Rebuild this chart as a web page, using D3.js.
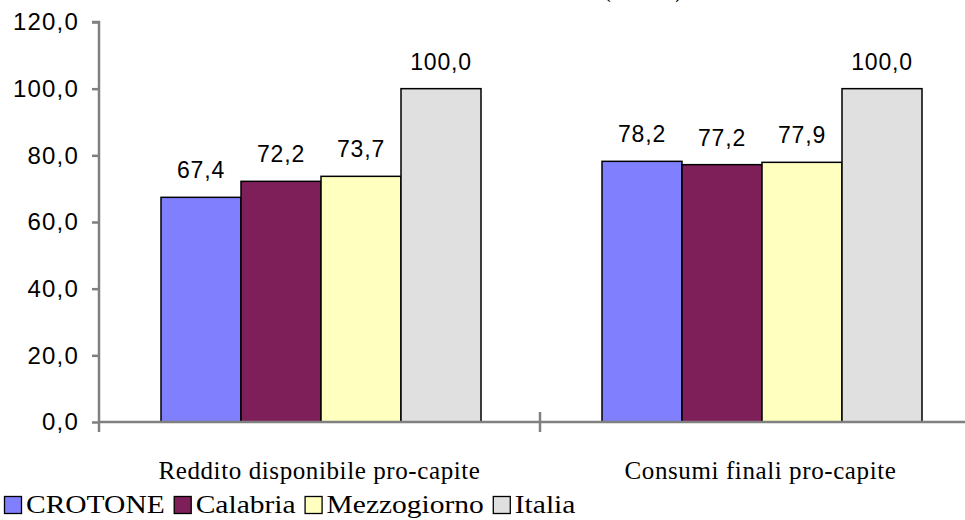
<!DOCTYPE html>
<html>
<head>
<meta charset="utf-8">
<script src="https://cdn.jsdelivr.net/npm/d3@7"></script>
<style>
  html, body { margin: 0; padding: 0; background: #fff; }
  svg { display: block; }
</style>
</head>
<body>
<svg id="chart" width="965" height="520"></svg>
<script>
// Indici pro-capite (Italia = 100)
const categories = ["Reddito disponibile pro-capite", "Consumi finali pro-capite"];
const seriesNames = ["CROTONE", "Calabria", "Mezzogiorno", "Italia"];
const seriesColors = ["#8080FF", "#7F1F5A", "#FFFFC0", "#E0E0E0"];
const values = {
  "CROTONE":     [67.4, 78.2],
  "Calabria":    [72.2, 77.2],
  "Mezzogiorno": [73.7, 77.9],
  "Italia":      [100.0, 100.0]
};
const yTicks = [0, 20, 40, 60, 80, 100, 120];

const fmt = v => v.toFixed(1).replace(".", ",");
const svg = d3.select("#chart");

const plotLeft = 99, plotW = 882, plotTop = 22, plotBottom = 422;
const sansFont = "Liberation Sans, Arial, sans-serif";
const serifFont = "Liberation Serif, Times New Roman, serif";

const y = d3.scaleLinear().domain([0, 120]).range([plotBottom, plotTop]);
const x0 = d3.scaleBand().domain(categories).range([plotLeft, plotLeft + plotW]).paddingInner(0).paddingOuter(0);
const x1 = d3.scaleBand().domain(seriesNames).range([62, 62 + 4 * 80]);

// heading above the plot (runs off the top edge)
svg.append("text")
  .attr("x", 643).attr("y", -1)
  .attr("text-anchor", "middle")
  .attr("font-family", serifFont)
  .attr("font-weight", "bold")
  .attr("font-size", 15)
  .text("(Italia=100)");

// bars
const groups = svg.append("g").selectAll("g")
  .data(categories)
  .join("g")
  .attr("transform", d => `translate(${x0(d)},0)`);

const cells = (c, i) => seriesNames.map((s, k) => ({ s, k, v: values[s][i] }));

groups.selectAll("rect")
  .data(cells)
  .join("rect")
  .attr("x", d => x1(d.s))
  .attr("y", d => y(d.v))
  .attr("width", x1.bandwidth())
  .attr("height", d => y(0) - y(d.v))
  .attr("fill", d => seriesColors[d.k])
  .attr("stroke", "#000")
  .attr("stroke-width", 1.5);

groups.selectAll("text.val")
  .data(cells)
  .join("text")
  .attr("class", "val")
  .attr("x", d => x1(d.s) + x1.bandwidth() / 2)
  .attr("y", d => y(d.v) - 19)
  .attr("text-anchor", "middle")
  .attr("font-family", sansFont)
  .attr("font-size", 23)
  .attr("letter-spacing", 0.8)
  .attr("fill", "#000")
  .text(d => fmt(d.v));

// y axis
const yAxis = svg.append("g")
  .attr("transform", `translate(${plotLeft},0)`)
  .call(d3.axisLeft(y).tickValues(yTicks).tickFormat(fmt).tickSize(7).tickPadding(13));
yAxis.select(".domain").attr("stroke", "#808080").attr("stroke-width", 2.5)
  .attr("d", `M-7,${plotTop}H0V${plotBottom + 10}`);
yAxis.selectAll(".tick line").attr("stroke", "#808080").attr("stroke-width", 2.5);
yAxis.selectAll(".tick text")
  .attr("font-family", sansFont)
  .attr("font-size", 24)
  .attr("letter-spacing", 1.2)
  .attr("fill", "#000");

// x axis
const xAxis = svg.append("g")
  .attr("transform", `translate(0,${plotBottom})`)
  .call(d3.axisBottom(x0).tickSize(0).tickPadding(39));
xAxis.select(".domain").attr("stroke", "#808080").attr("stroke-width", 2.5)
  .attr("d", `M${plotLeft},0H${plotLeft + plotW}`);
xAxis.selectAll(".tick text")
  .attr("font-family", serifFont)
  .attr("font-size", 25)
  .attr("letter-spacing", 0.6)
  .attr("fill", "#000");

// category separators
const seps = categories.map(c => x0(c)).concat([plotLeft + plotW]).slice(1);
svg.append("g").selectAll("line")
  .data(seps)
  .join("line")
  .attr("x1", d => d).attr("x2", d => d)
  .attr("y1", plotBottom - 10).attr("y2", plotBottom + 10)
  .attr("stroke", "#808080").attr("stroke-width", 2.5);

// legend: swatches and labels laid out left to right
const legendScaleX = 1.18, swatch = 17, labelGap = 5, itemGap = 9;
const legend = svg.append("g").attr("transform", "translate(4,496)");
let cursor = 0;
seriesNames.forEach((name, i) => {
  const item = legend.append("g").attr("transform", `translate(${cursor},0)`);
  item.append("rect")
    .attr("x", 0.5).attr("y", 0.5)
    .attr("width", swatch).attr("height", swatch)
    .attr("fill", seriesColors[i])
    .attr("stroke", "#000").attr("stroke-width", 1.3);
  const label = item.append("text")
    .attr("transform", `translate(${swatch + labelGap},17) scale(${legendScaleX},1)`)
    .attr("font-family", serifFont)
    .attr("font-size", 25)
    .attr("fill", "#000")
    .text(name);
  cursor += swatch + labelGap + label.node().getComputedTextLength() * legendScaleX + itemGap;
});
</script>
</body>
</html>
